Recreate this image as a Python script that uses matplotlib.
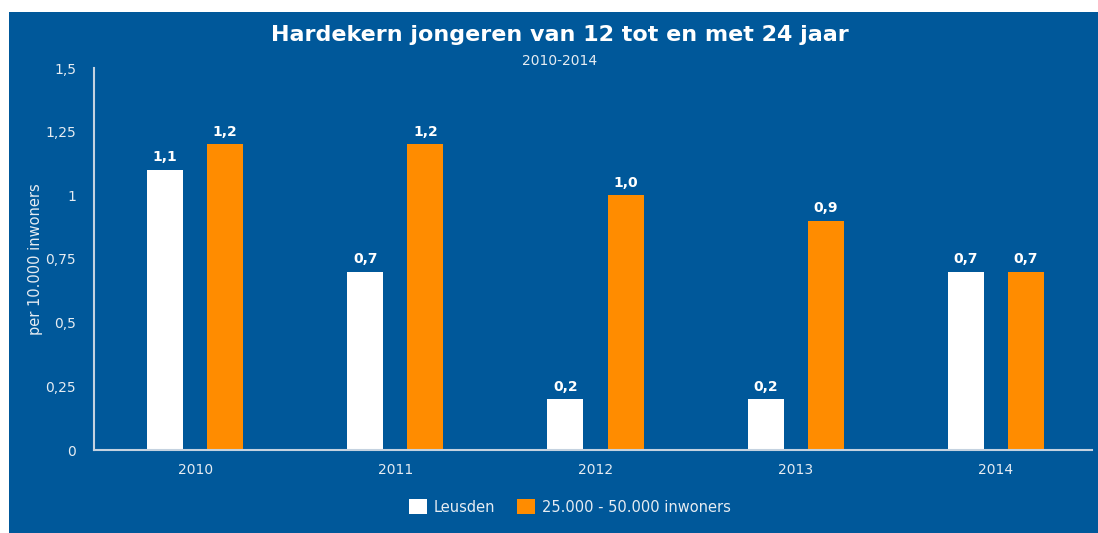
import matplotlib
matplotlib.use("Agg")
import matplotlib.pyplot as plt
from matplotlib.patches import Rectangle
import numpy as np

plt.rcParams["font.family"] = ["DejaVu Sans"]

years = ["2010", "2011", "2012", "2013", "2014"]
leusden = [1.1, 0.7, 0.2, 0.2, 0.7]
groep = [1.2, 1.2, 1.0, 0.9, 0.7]
series_names = ["Leusden", "25.000 - 50.000 inwoners"]
yticks = [0, 0.25, 0.5, 0.75, 1, 1.25, 1.5]
ytick_labels = ["0", "0,25", "0,5", "0,75", "1", "1,25", "1,5"]

BG = "#00589A"
ORANGE = "#FF8C00"
TXT = "#E6ECF2"
AX = "#C4D2E0"

W, H = 1098, 533
fig = plt.figure(figsize=(W / 100, H / 100), dpi=100, facecolor=BG)
# white margins (top and left) outside the blue panel
fig.patches.append(Rectangle((0, (H - 12) / H), 1, 12 / H, transform=fig.transFigure,
                             facecolor="white", edgecolor="none"))
fig.patches.append(Rectangle((0, 0), 9 / W, 1, transform=fig.transFigure,
                             facecolor="white", edgecolor="none"))

ax = fig.add_axes([94 / W, (H - 450) / H, (1092 - 94) / W, (450 - 68) / H])
ax.set_facecolor(BG)

x = np.arange(len(years))
bw = 0.18
off = 0.15
b1 = ax.bar(x - off, leusden, bw, color="white", label=series_names[0], zorder=2)
b2 = ax.bar(x + off, groep, bw, color=ORANGE, label=series_names[1], zorder=2)

def fmt(v):
    return f"{v:.1f}".replace(".", ",")

for bars, vals in ((b1, leusden), (b2, groep)):
    for r, v in zip(bars, vals):
        ax.annotate(fmt(v), (r.get_x() + r.get_width() / 2, v),
                    xytext=(0, 4), textcoords="offset points",
                    ha="center", va="bottom", color="white",
                    fontsize=10, fontweight="bold")

ax.set_xlim(-0.505, 4.48)
ax.set_ylim(0, 1.5)
ax.set_xticks(x)
ax.set_xticklabels(years)
ax.set_yticks(yticks)
ax.set_yticklabels(ytick_labels)
ax.tick_params(axis="both", length=0, colors=TXT, labelsize=10)
ax.tick_params(axis="y", pad=13)
ax.tick_params(axis="x", pad=9)
for s in ("top", "right"):
    ax.spines[s].set_visible(False)
for s in ("left", "bottom"):
    ax.spines[s].set_color(AX)
    ax.spines[s].set_linewidth(1.5)

ax.set_ylabel("per 10.000 inwoners", color=TXT, fontsize=10.5)
ax.yaxis.set_label_coords((43 - 94) / 998, 0.5)

fig.text(560 / W, 1 - 35 / H, "Hardekern jongeren van 12 tot en met 24 jaar",
         ha="center", va="center", color="white", fontsize=16, fontweight="bold")
fig.text(560 / W, 1 - 61 / H, "2010-2014", ha="center", va="center",
         color=TXT, fontsize=10)

leg = fig.legend(handles=[b1, b2], labels=series_names, loc="center",
                 bbox_to_anchor=(570 / W, 1 - 507 / H), ncol=2, frameon=False,
                 fontsize=10.5, handlelength=1.2, handleheight=1.2,
                 columnspacing=1.5, handletextpad=0.5)
for t in leg.get_texts():
    t.set_color(TXT)

fig.savefig("out.png", dpi=100, facecolor=BG)
